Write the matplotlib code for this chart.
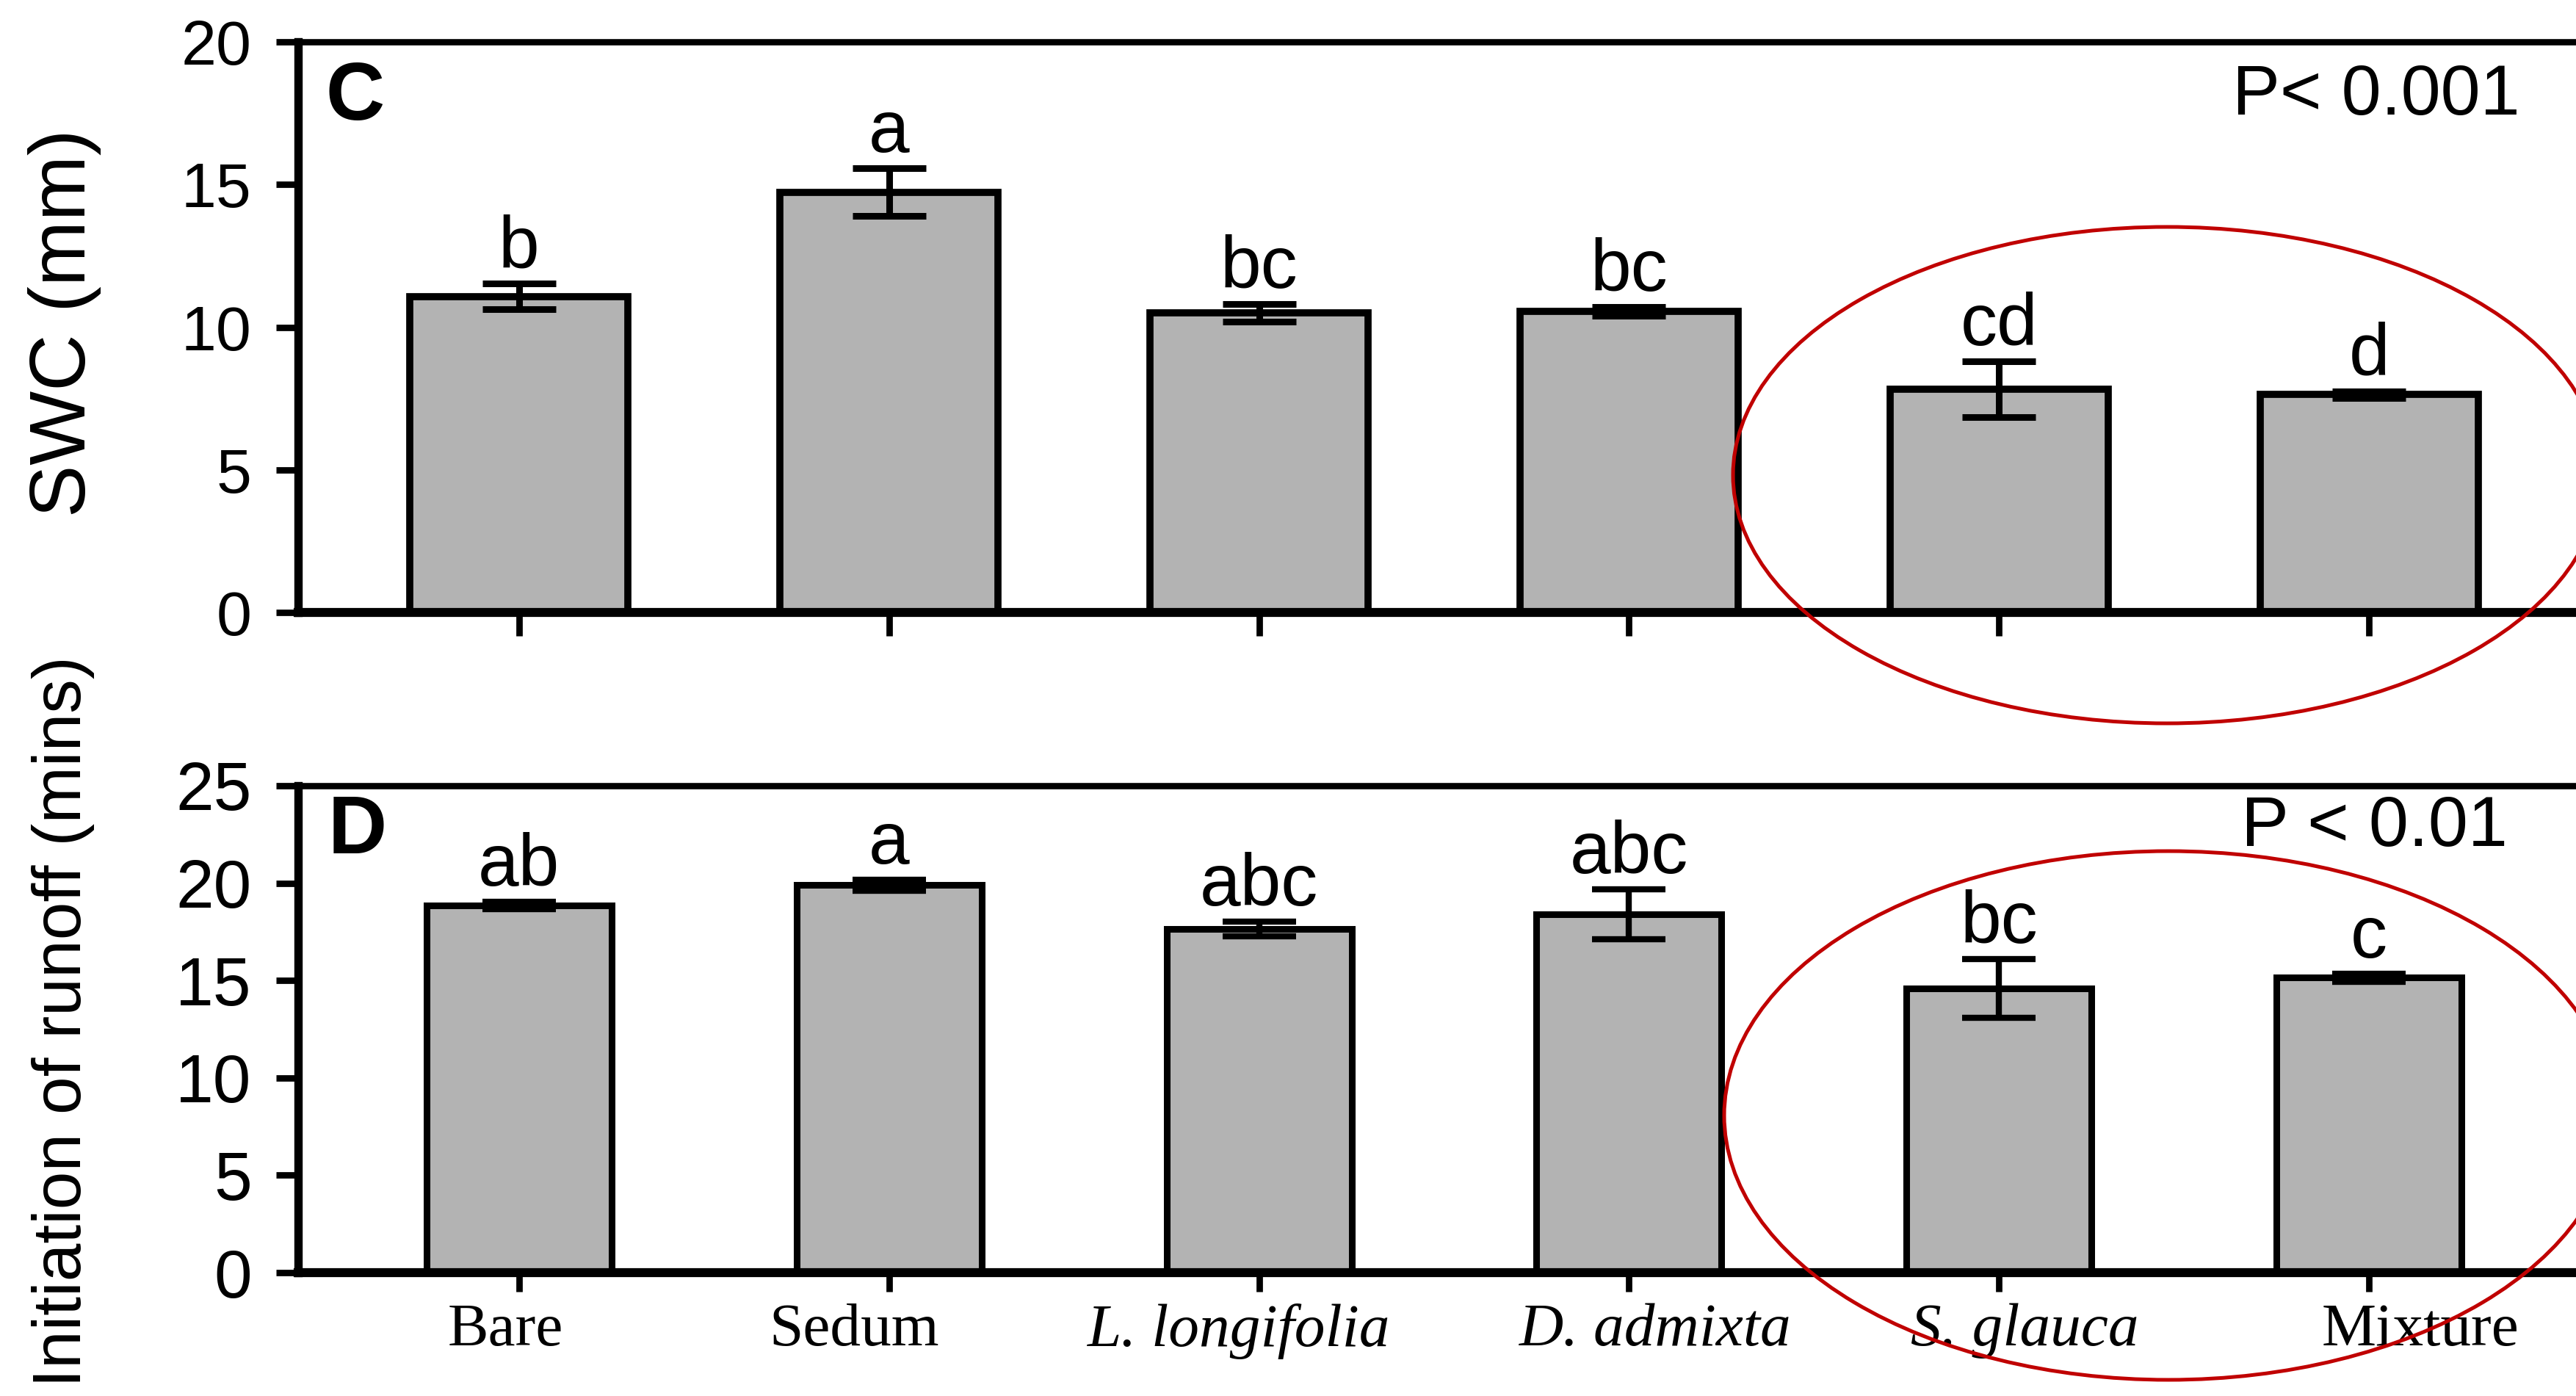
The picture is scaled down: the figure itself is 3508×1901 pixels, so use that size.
import matplotlib
matplotlib.use("Agg")
import matplotlib.pyplot as plt
import numpy as np
from matplotlib.patches import Ellipse
from matplotlib.transforms import ScaledTranslation

plt.rcParams["font.family"] = ["Liberation Sans", "DejaVu Sans"]

# treatments and their x-axis labels (species names in italics)
TREATMENTS = ["Bare", "Sedum", "L. longifolia", "D. admixta", "S. glauca", "Mixture"]
ITALIC = [False, False, True, True, True, False]
LABEL_NUDGE_PT = [-13, -34, -20, 26, 25, 50]   # hand-placed label offsets

# panel C: soil water content
SWC_MEAN = [11.08, 14.73, 10.50, 10.55, 7.82, 7.64]
SWC_SE = [0.44, 0.83, 0.30, 0.15, 0.98, 0.12]
SWC_LETTERS = ["b", "a", "bc", "bc", "cd", "d"]

# panel D: time to initiation of runoff
RUNOFF_MEAN = [18.85, 19.90, 17.65, 18.40, 14.60, 15.15]
RUNOFF_SE = [0.20, 0.28, 0.38, 1.28, 1.50, 0.20]
RUNOFF_LETTERS = ["ab", "a", "abc", "abc", "bc", "c"]

W, H, DPI = 3508, 1901, 100
BAR_COLOR = "#b3b3b3"
RING = "#c00000"


def panel(ax, means, ses, letters, width, ymax, lw, tag, ptext, ptext_xy,
          tag_xy, ticklen):
    x = np.arange(len(means))
    ax.bar(x, means, width=width, color=BAR_COLOR, edgecolor="black",
           linewidth=lw, zorder=2)
    ax.errorbar(x, means, yerr=ses, fmt="none", ecolor="black",
                elinewidth=lw - 0.5, capsize=36, capthick=lw - 0.5, zorder=3)
    for xi, m, s, lab in zip(x, means, ses, letters):
        ax.annotate(lab, xy=(xi, m + s), xytext=(0, 16), textcoords="offset points",
                    ha="center", va="baseline", fontsize=72, zorder=4)

    ax.set_xlim(-0.597, 5.597)
    ax.set_ylim(0, ymax)
    ax.set_yticks(np.arange(0, ymax + 1, 5))
    ax.set_xticks(x)
    ax.spines["right"].set_visible(False)
    ax.spines["top"].set_linewidth(6.2)
    ax.spines["left"].set_linewidth(8.2)
    ax.spines["bottom"].set_linewidth(8.8)
    ax.tick_params(axis="y", direction="out", length=21.6, width=6.3, pad=24)
    ax.tick_params(axis="x", direction="out", length=ticklen, width=6.3, pad=11)

    ax.text(*tag_xy, tag, transform=ax.transAxes, ha="left", va="baseline",
            fontsize=80, fontweight="bold")
    ax.text(*ptext_xy, ptext, transform=ax.transAxes, ha="right", va="baseline",
            fontsize=70)


fig = plt.figure(figsize=(W / DPI, H / DPI), dpi=DPI)

left = 406 / W
width = (3527 - 406) / W
ax_c = fig.add_axes([left, 1 - 834 / H, width, (834 - 57) / H])
ax_d = fig.add_axes([left, 1 - 1733 / H, width, (1733 - 1070) / H])

panel(ax_c, SWC_MEAN, SWC_SE, SWC_LETTERS, 0.59, 20, 7.0, "C", "P< 0.001",
      (0.9696, 0.8726), (0.0119, 0.8636), 23)
panel(ax_d, RUNOFF_MEAN, RUNOFF_SE, RUNOFF_LETTERS, 0.50, 25, 6.5, "D", "P < 0.01",
      (0.9641, 0.876), (0.0131, 0.861), 19)

ax_c.tick_params(axis="y", labelsize=62)
ax_c.tick_params(axis="x", labelbottom=False)
ax_d.tick_params(axis="y", labelsize=67)

ax_d.set_xticklabels(TREATMENTS, fontsize=60, family="Liberation Serif")
for lab, ital, dx in zip(ax_d.get_xticklabels(), ITALIC, LABEL_NUDGE_PT):
    if ital:
        lab.set_fontstyle("italic")
    lab.set_transform(lab.get_transform() + ScaledTranslation(dx / 72, 0, fig.dpi_scale_trans))

fig.text(88 / W, 1 - 440 / H, "SWC (mm)", rotation=90, ha="center", va="center",
         fontsize=77)
fig.text(86 / W, 1 - 893 / H, "Initiation of runoff (mins)", rotation=90,
         ha="center", va="top", fontsize=67)

# red rings around the S. glauca / Mixture pair, drawn in pixel space on top
ov = fig.add_axes([0, 0, 1, 1], zorder=10)
ov.set_xlim(0, W)
ov.set_ylim(H, 0)
ov.set_axis_off()
ov.add_patch(Ellipse((2951, 647), 1182, 676, fill=False, edgecolor=RING, linewidth=3.6))
ov.add_patch(Ellipse((2953, 1519), 1210, 720, fill=False, edgecolor=RING, linewidth=3.6))

fig.savefig("out.png", dpi=DPI)
